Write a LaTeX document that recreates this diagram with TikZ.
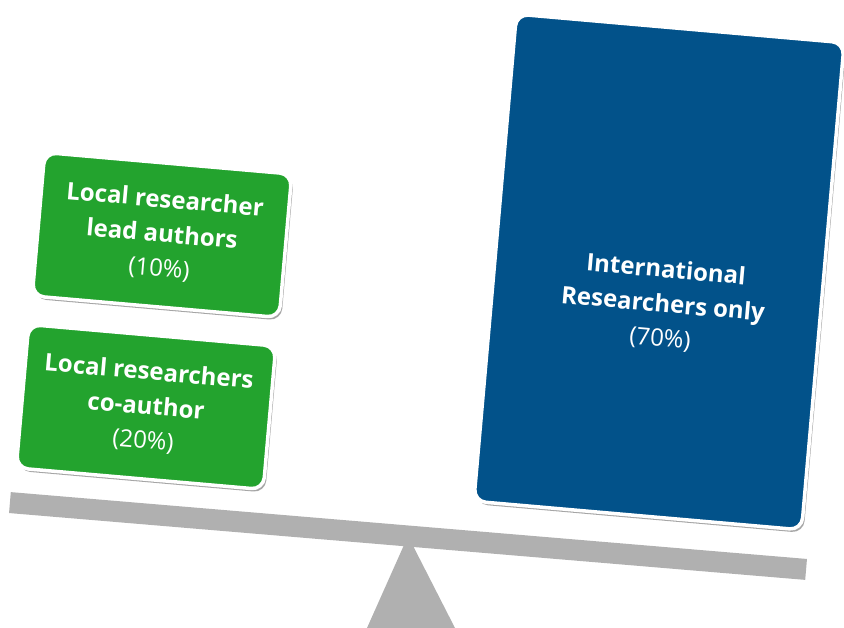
\documentclass[tikz,border=0pt]{standalone}
\usepackage{fontspec}
\setsansfont{Open Sans}
\usetikzlibrary{shadows}
\newdimen\pxl \pxl=0.03cm
\definecolor{localgreen}{RGB}{35,163,46}
\definecolor{intlblue}{RGB}{2,82,138}
\definecolor{beamgray}{RGB}{176,176,176}
\tikzset{
  card/.style={
    rectangle, draw=white, line width=3.5\pxl,
    rounded corners=12\pxl, rotate=-5,
    text=white, align=center,
    drop shadow={shadow xshift=2\pxl, shadow yshift=-3\pxl,
      opacity=.5, fill=black!70},
  },
  share/.style={
    card, fill=localgreen,
    minimum width=248\pxl, minimum height=144\pxl,
  },
  bigshare/.style={
    card, fill=intlblue,
    minimum width=329\pxl, minimum height=489\pxl,
  },
  caption/.style={
    rotate=-5, text=white, align=center,
  },
  beam/.style={
    rectangle, fill=beamgray, inner sep=0pt,
    minimum width=799\pxl, minimum height=21\pxl,
  }
}

\begin{document}
\begin{tikzpicture}[x=\pxl,y=-\pxl,font=\sffamily\fontsize{20.5}{29.5}\selectfont]
\useasboundingbox (0,0) rectangle (844,628);
% scale
\node [beam, rotate=-4.8] (beam) at (408,536) {};
\fill [beamgray] (beam.center) -- (367,628) -- (455,628) -- cycle;
% left pan
\node [share] (lead) at (162,235)
  {\textbf{Local researcher}\\\textbf{lead authors}\\(10\%)};
\node [share] (coauth) at (146,407)
  {\textbf{Local researchers}\\\textbf{co-author}\\(20\%)};
% right pan
\node [bigshare] (intl) at (659,272) {};
\node [caption] (intltext) at (663,305)
  {\textbf{International}\\\textbf{Researchers only}\\(70\%)};
\end{tikzpicture}
\end{document}
